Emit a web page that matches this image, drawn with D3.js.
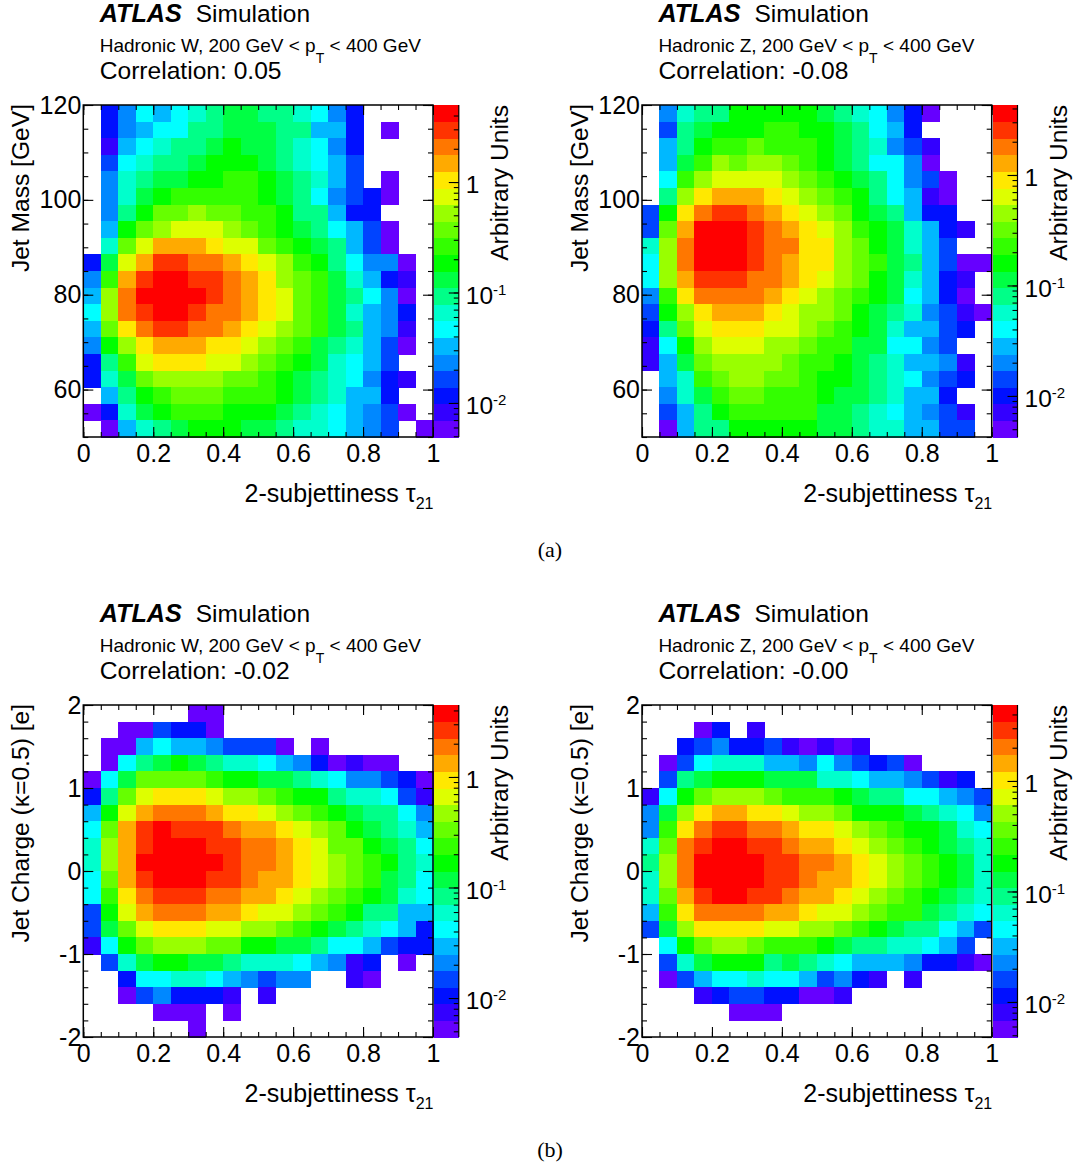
<!DOCTYPE html>
<html><head><meta charset="utf-8">
<script src="https://cdn.jsdelivr.net/npm/d3@7"></script>
<style>
html,body{margin:0;padding:0;background:#fff}
svg{display:block}
text{font-family:"Liberation Sans",Arial,sans-serif;fill:#000}
</style></head><body>
<svg id="c" width="1075" height="1167"></svg>
<script>
const _ = null;
// colour-band level (0..19, bottom to top of the colour bar) per bin; rows top to bottom, columns left to right
const wMassBands = [
[_,2,4,6,5,6,7,8,9,9,8,8,7,6,4,2],
[_,2,4,5,6,6,8,8,9,9,9,8,8,5,5,2,_,0],
[_,1,5,6,7,8,8,9,10,9,9,8,7,6,4,2],
[_,3,6,7,8,8,9,10,10,10,9,8,7,6,5,3],
[_,4,7,8,9,9,10,10,11,11,10,9,8,7,5,3,_,0],
[_,4,7,9,10,11,11,11,11,11,10,9,8,6,4,3,2,0],
[_,4,8,10,12,12,13,12,12,11,11,10,8,8,5,2,2],
[_,5,10,12,13,14,14,14,13,12,11,10,9,8,6,5,3,0],
[_,7,12,14,16,16,16,15,14,14,12,11,10,9,8,5,3,0],
[2,9,14,16,18,18,17,17,16,15,14,13,11,10,8,6,4,4,0],
[4,11,16,18,19,19,18,18,17,16,15,13,12,11,9,7,5,2,1],
[5,13,17,19,19,19,19,18,17,16,15,14,12,11,9,8,6,4,0],
[6,13,17,18,19,19,18,17,17,16,15,14,12,11,9,7,5,4,2],
[5,12,15,17,18,18,17,17,16,15,14,13,12,11,9,8,5,4,1],
[4,10,13,15,16,16,16,15,15,14,13,12,11,9,8,7,5,3,0],
[2,8,11,14,15,15,15,14,14,13,12,11,10,9,7,6,5,3],
[2,7,9,12,13,13,13,13,12,12,11,10,9,8,7,6,4,2,1],
[_,5,8,10,11,12,12,12,11,11,11,10,9,8,7,5,5,2],
[0,2,7,9,10,11,11,11,10,10,10,9,8,7,6,5,4,3,0],
[_,0,5,7,8,9,10,10,10,9,9,8,7,7,6,5,4,3,_,0]];
const zMassBands = [
[_,4,7,8,8,10,10,10,10,10,9,8,7,6,4,2,0],
[_,3,8,9,10,10,10,11,11,10,10,9,8,6,5,2],
[_,5,8,10,11,11,12,11,11,11,10,9,8,7,4,3,1],
[_,5,9,11,13,12,13,13,12,11,10,9,8,6,6,4,0],
[_,6,11,13,14,14,14,14,13,12,11,10,9,8,6,4,3,0],
[_,8,13,15,16,16,16,15,14,13,12,11,10,8,6,5,1,0],
[3,10,15,17,18,18,17,16,15,14,13,12,10,9,8,5,2,2],
[3,12,16,19,19,19,18,17,16,15,14,13,11,10,9,7,5,2,1],
[7,13,17,19,19,19,18,17,17,15,15,13,12,10,9,7,5,3],
[6,13,17,19,19,19,18,17,16,15,15,13,12,11,9,8,5,3,0,0],
[6,13,16,18,18,18,17,17,16,15,14,13,12,10,9,7,5,2,1],
[4,11,15,17,17,17,17,16,15,14,13,12,11,10,9,6,5,2,0],
[3,10,13,15,16,16,16,15,14,13,13,12,10,9,8,7,4,3,1,0],
[2,8,12,14,15,15,15,14,14,13,12,11,10,9,7,5,5,3,2],
[1,6,10,13,14,14,14,13,13,12,11,11,9,9,6,6,4,3],
[1,5,9,12,13,13,13,13,12,11,11,10,9,8,7,5,5,4,1],
[_,5,7,11,12,13,13,12,12,11,10,10,9,8,7,6,4,3,2],
[_,4,7,9,11,12,12,11,11,11,10,9,9,8,7,5,5,2],
[_,3,5,8,10,11,11,11,11,11,9,9,8,7,6,5,4,3,1],
[_,0,5,8,8,10,10,10,10,10,9,9,8,7,7,5,5,3,3]];
const wChargeBands = [
[_,_,_,_,_,_,0,0],
[_,_,0,0,3,2,2,0],
[_,0,0,5,6,5,5,4,3,3,3,0,_,0],
[_,0,6,8,9,10,9,8,7,7,6,5,4,2,0,1,0,0],
[0,6,9,12,12,12,12,11,10,10,9,9,8,7,6,4,4,3,2,0],
[2,8,12,14,15,15,15,14,13,13,12,11,10,10,8,7,7,6,3,1],
[5,10,14,16,17,17,17,16,15,15,14,13,12,11,10,9,8,8,6,4],
[6,12,16,18,19,18,18,18,17,16,16,15,14,13,12,10,9,8,7,5],
[7,13,16,18,19,19,19,18,18,17,17,16,15,14,12,12,10,9,8,6],
[7,13,16,19,19,19,19,19,18,17,17,16,15,14,13,12,11,10,8,7],
[6,12,16,18,19,19,19,18,18,17,16,16,15,14,13,12,11,9,8,6],
[6,11,15,17,18,18,18,17,17,16,16,15,14,13,12,11,10,9,7,6],
[3,10,14,16,17,17,17,16,16,15,14,14,13,12,11,10,8,8,5,5],
[3,9,12,14,15,15,15,14,14,13,13,12,11,10,9,8,7,6,5,2],
[1,6,10,12,13,13,13,12,12,10,10,9,9,8,6,6,5,3,2,2],
[_,3,7,9,10,10,9,9,8,7,7,7,6,5,4,1,2,_,0],
[_,_,2,6,6,7,7,6,5,4,3,4,4,_,_,1,0],
[_,_,0,3,4,2,2,2,1,_,1],
[_,_,_,_,0,0,0,_,0],
[_,_,_,_,_,_,0]];
const zChargeBands = [
[],
[_,_,_,0,2,_,1],
[_,_,2,3,4,2,2,3,1,0,1,0,1],
[_,0,3,6,7,7,7,5,5,4,6,4,3,2,3,0],
[_,3,8,9,10,10,10,9,9,9,7,7,6,5,5,4,3,1,2],
[1,6,10,12,13,13,13,12,11,11,11,10,9,8,8,6,6,5,4,3],
[4,9,13,15,16,16,15,15,14,13,13,12,10,10,10,9,8,7,6,4],
[4,11,15,17,18,18,17,17,16,15,15,14,13,12,11,10,10,9,7,6],
[7,12,17,18,19,19,18,18,17,16,16,15,14,13,12,11,10,9,8,7],
[8,13,17,19,19,19,19,18,18,17,17,16,15,14,13,12,11,10,9,7],
[7,13,17,19,19,19,19,18,18,17,16,16,15,14,13,12,11,10,9,7],
[7,12,16,18,19,19,18,18,17,16,16,15,14,13,12,11,10,9,8,7],
[5,11,15,17,17,17,17,16,16,15,14,14,13,12,11,11,9,8,7,6],
[3,9,13,15,15,15,15,14,14,13,13,12,11,10,9,8,8,6,5,3],
[_,6,10,12,13,13,12,11,11,11,10,9,8,8,7,7,6,5,3],
[_,3,7,9,10,10,10,8,9,8,7,6,5,5,5,4,2,2,1,0],
[_,0,3,5,6,6,7,6,6,5,3,4,2,1,_,1],
[_,_,_,1,2,3,3,2,2,0,0,1],
[_,_,_,_,_,0,0,0],
[]];
const bandColors = ["#6600ff","#3300ff","#0010ff","#0044ff","#0088ff","#00b8ff","#00ffff","#00ffcc","#00ff88","#00ff44","#00ff00","#33ff00","#66ff00","#99ff00","#ddff00","#ffe800","#ffaa00","#ff7700","#ff3300","#ff0000"];
const titles = ["Hadronic W","Hadronic Z","Hadronic W","Hadronic Z"];
const correlations = ["0.05","-0.08","-0.02","-0.00"];
const yTitles = ["Jet Mass [GeV]","Jet Mass [GeV]","Jet Charge (κ=0.5) [e]","Jet Charge (κ=0.5) [e]"];
const yDomains = [[50,120],[50,120],[-2,2],[-2,2]];
const yMajor = [[60,80,100,120],[60,80,100,120],[-2,-1,0,1,2],[-2,-1,0,1,2]];
const yMinorStep = [5,5,0.2,0.2];
const zDomains = [[0.00492,4.98],[0.00425,4.30],[0.00444,4.48],[0.00482,4.87]];
const xMajor = [0,0.2,0.4,0.6,0.8,1];
const zMajor = [0.01,0.1,1];
const bandSets = [wMassBands,zMassBands,wChargeBands,zChargeBands];
const captions = ["(a)","(b)"];

const W=349.7, H=332;
const origins=[[83.3,105],[642,105],[83.3,705],[642,705]];
const svg=d3.select("#c");
const color=d3.scaleOrdinal(d3.range(20),bandColors);

function styleAxis(g,size){
  g.select(".domain").remove();
  g.selectAll("line").attr("stroke","#000").attr("stroke-width",1.1);
  g.selectAll("text").attr("font-size",size).attr("fill","#000").style("font-family",'"Liberation Sans",Arial,sans-serif');
}
function range(a,b,s){const r=[];const n=Math.round((b-a)/s);for(let i=0;i<=n;i++)r.push(+(a+i*s).toFixed(6));return r;}

bandSets.forEach((rows,p)=>{
  const [ox,oy]=origins[p];
  const g=svg.append("g").attr("transform",`translate(${ox},${oy})`);
  const x=d3.scaleLinear().domain([0,1]).range([0,W]);
  const y=d3.scaleLinear().domain(yDomains[p]).range([H,0]);
  const col=d3.scaleBand().domain(d3.range(20)).range([0,W]);
  const row=d3.scaleBand().domain(d3.range(20)).range([0,H]);
  // bins
  const cells=[];
  rows.forEach((r,ri)=>r.forEach((v,ci)=>{if(v!==null)cells.push({ri,ci,v});}));
  g.append("g").attr("shape-rendering","crispEdges").selectAll("rect").data(cells).join("rect")
    .attr("x",d=>col(d.ci)).attr("y",d=>row(d.ri))
    .attr("width",col.bandwidth()+0.5).attr("height",row.bandwidth()+0.5)
    .attr("fill",d=>color(d.v));
  // axes
  const xMinorT=range(0,1,0.05), yMinorT=range(yDomains[p][0],yDomains[p][1],yMinorStep[p]);
  g.append("g").attr("transform",`translate(0,${H})`).call(d3.axisBottom(x).tickValues(xMajor).tickSize(-10).tickPadding(7.5).tickFormat(d=>d===0?"0":d===1?"1":d3.format(".1f")(d))).call(a=>styleAxis(a,25));
  g.append("g").attr("transform",`translate(0,${H})`).call(d3.axisBottom(x).tickValues(xMinorT).tickSize(-5).tickFormat("")).call(a=>styleAxis(a,0));
  g.append("g").call(d3.axisTop(x).tickValues(xMajor).tickSize(-10).tickFormat("")).call(a=>styleAxis(a,0));
  g.append("g").call(d3.axisTop(x).tickValues(xMinorT).tickSize(-5).tickFormat("")).call(a=>styleAxis(a,0));
  g.append("g").call(d3.axisLeft(y).tickValues(yMajor[p]).tickSize(-10).tickPadding(2).tickFormat(d=>String(d))).call(a=>styleAxis(a,25));
  g.append("g").call(d3.axisLeft(y).tickValues(yMinorT).tickSize(-5).tickFormat("")).call(a=>styleAxis(a,0));
  g.append("g").attr("transform",`translate(${W},0)`).call(d3.axisRight(y).tickValues(yMajor[p]).tickSize(-10).tickFormat("")).call(a=>styleAxis(a,0));
  g.append("g").attr("transform",`translate(${W},0)`).call(d3.axisRight(y).tickValues(yMinorT).tickSize(-5).tickFormat("")).call(a=>styleAxis(a,0));
  g.append("rect").attr("width",W).attr("height",H).attr("fill","none").attr("stroke","#000").attr("stroke-width",1.5);
  // colour bar
  const z=d3.scaleLog().domain(zDomains[p]).range([H,0]);
  const bx=W+1, bw=24.8;
  const barBand=d3.scaleBand().domain(d3.range(20)).range([H,0]);
  const bar=g.append("g").attr("transform",`translate(${bx},0)`);
  bar.append("g").attr("shape-rendering","crispEdges").selectAll("rect").data(bandColors).join("rect")
    .attr("x",0).attr("width",bw).attr("y",(d,i)=>barBand(i)).attr("height",barBand.bandwidth()+0.5).attr("fill",d=>d);
  const zMinor=[];
  [0.001,0.01,0.1,1].forEach(dec=>d3.range(1,10).forEach(m=>{const v=dec*m;if(v>=zDomains[p][0]&&v<=zDomains[p][1])zMinor.push(v);}));
  bar.append("g").attr("transform",`translate(${bw},0)`).call(d3.axisRight(z).tickValues(zMinor).tickSize(-5).tickFormat("")).call(a=>styleAxis(a,0));
  const zAxis=bar.append("g").attr("transform",`translate(${bw},0)`).call(d3.axisRight(z).tickValues(zMajor).tickSize(-10).tickPadding(7).tickFormat(d=>d)).call(a=>styleAxis(a,24.5));
  zAxis.selectAll("text").each(function(d){
    const t=d3.select(this).attr("y",3);
    if(d===1){t.text("1");return;}
    t.text("10");
    t.append("tspan").attr("font-size",15).attr("dy",-9).text(d===0.1?"-1":"-2");
  });
  bar.append("line").attr("x1",bw).attr("x2",bw).attr("y1",0).attr("y2",H).attr("stroke","#000").attr("stroke-width",1.2);
  // labels
  g.append("text").attr("text-anchor","end").attr("x",W+0.5).attr("y",397).attr("font-size",25).text("2-subjettiness τ")
    .append("tspan").attr("font-size",16).attr("dy",7).text("21");
  g.append("text").attr("text-anchor","end").attr("transform",`translate(-54,-1) rotate(-90)`).attr("font-size",24.6).text(yTitles[p]);
  g.append("text").attr("text-anchor","end").attr("transform",`translate(${W+75},0) rotate(-90)`).attr("font-size",24.6).text("Arbitrary Units");
  // header
  const hx=16.4;
  const h=g.append("g");
  h.append("text").attr("x",hx).attr("y",-83).attr("font-size",25.2).attr("font-weight","bold").attr("font-style","italic").text("ATLAS");
  h.append("text").attr("x",hx+96).attr("y",-83).attr("font-size",24.5).text("Simulation");
  const sub=h.append("text").attr("x",hx).attr("y",-53).attr("font-size",19).text(titles[p]+", 200 GeV < p");
  sub.append("tspan").attr("font-size",14).attr("dy",11).text("T");
  sub.append("tspan").attr("dy",-11).text(" < 400 GeV");
  h.append("text").attr("x",hx).attr("y",-26.5).attr("font-size",24.6).text("Correlation: "+correlations[p]);
});
captions.forEach((c,i)=>svg.append("text").attr("x",550).attr("y",557+600*i).attr("text-anchor","middle")
  .style("font-family",'"Liberation Serif",serif').attr("font-size",22).text(c));
</script></body></html>
